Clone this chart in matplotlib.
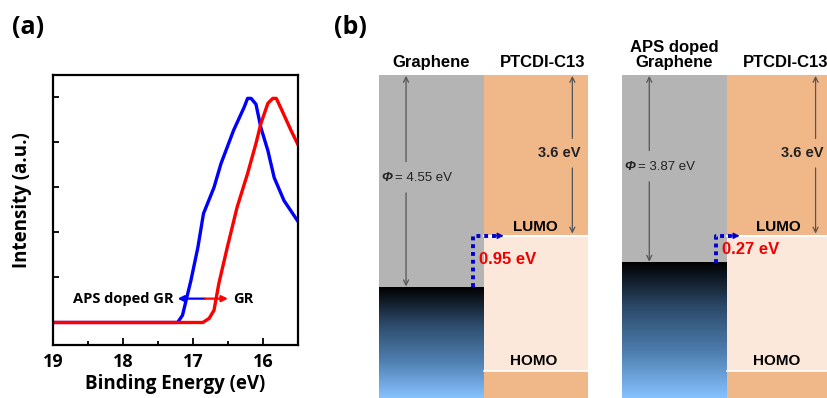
import numpy as np
import matplotlib
matplotlib.use("Agg")
import matplotlib.pyplot as plt
from matplotlib.colors import LinearSegmentedColormap
from matplotlib.patches import Rectangle

# ---- panel (a): UPS secondary cutoff ----
blue_be = [19.0, 17.22, 17.15, 17.03, 16.93, 16.85, 16.70, 16.60, 16.42, 16.27,
           16.22, 16.17, 16.10, 16.03, 15.93, 15.84, 15.70, 15.48]
blue_int = [0, 0, 0.16, 0.93, 1.67, 2.42, 3.0, 3.53, 4.27, 4.78,
            4.98, 4.98, 4.85, 4.33, 3.82, 3.22, 2.71, 2.2]
red_be = [19.0, 16.86, 16.77, 16.70, 16.63, 16.51, 16.37, 16.22, 16.10, 16.03,
          15.93, 15.86, 15.81, 15.74, 15.60, 15.48]
red_int = [0, 0, 0.09, 0.27, 0.87, 1.67, 2.56, 3.31, 3.98, 4.42,
           4.87, 4.98, 4.98, 4.75, 4.27, 3.89]
cutoffs = [17.22, 16.50]      # APS doped GR, GR (arrow ends)
arrow_mid = 16.83
x_ticks = [19, 18, 17, 16]

# ---- panel (b): energy level schematic (depth below vacuum, as drawn) ----
fermi_depth = [4.75, 4.2]          # pristine, APS doped graphene
lumo_depth = 3.6
homo_depth = 6.62
wf_labels = ["4.55", "3.87"]
barrier_labels = ["0.95 eV", "0.27 eV"]
gr_names = ["Graphene", "APS doped\nGraphene"]

FA = "Open Sans"
FB = "Liberation Sans"

fig = plt.figure(figsize=(8.27, 3.98), dpi=100)

# ---------------- (a) ----------------
ax = fig.add_axes([0.0641, 0.1332, 0.2962, 0.6784])
ax.plot(blue_be, blue_int, color="#0000ff", lw=2.4, solid_joinstyle="round")
ax.plot(red_be, red_int, color="#ff0000", lw=2.4, solid_joinstyle="round")
ax.set_xlim(19, 15.5)
ax.set_ylim(-0.5, 5.5)
ax.set_xticks(x_ticks)
ax.set_xticks(np.arange(15.5, 19.01, 0.5), minor=True)
ax.set_yticks([1, 2, 3, 4, 5])
ax.set_yticklabels([])
ax.tick_params(axis="both", which="both", direction="in", top=False, right=False,
               width=1.3)
ax.tick_params(axis="x", which="major", length=5, pad=6)
ax.tick_params(axis="x", which="minor", length=3)
ax.tick_params(axis="y", which="major", length=4)
for lab in ax.get_xticklabels():
    lab.set_fontfamily(FA)
    lab.set_fontweight("bold")
    lab.set_fontsize(13)
for s in ax.spines.values():
    s.set_linewidth(1.6)
ax.set_xlabel("Binding Energy (eV)", fontfamily=FA, fontweight="bold", fontsize=13.5,
              labelpad=2)
ax.set_ylabel("Intensity (a.u.)", fontfamily=FA, fontweight="bold", fontsize=13.5)
ax.yaxis.set_label_coords(-0.086, 0.537)

ya = 0.53
ax.annotate("", xy=(cutoffs[0], ya), xytext=(arrow_mid, ya),
            arrowprops=dict(arrowstyle="-|>", color="#0000ff", lw=1.6,
                            mutation_scale=9, shrinkA=0, shrinkB=0))
ax.annotate("", xy=(cutoffs[1], ya), xytext=(arrow_mid, ya),
            arrowprops=dict(arrowstyle="-|>", color="#ff0000", lw=1.6,
                            mutation_scale=9, shrinkA=0, shrinkB=0))
ax.text(cutoffs[0] + 0.05, ya, "APS doped GR", ha="right", va="center",
        fontfamily=FA, fontweight="bold", fontsize=10.5)
ax.text(cutoffs[1] - 0.07, ya, "GR", ha="left", va="center",
        fontfamily=FA, fontweight="bold", fontsize=10.5)
fig.text(0.014, 0.93, "(a)", fontfamily=FA, fontweight="bold", fontsize=18,
         va="center")

# ---------------- (b) ----------------
bx = fig.add_axes([0.4583, 0.0, 0.5417, 0.8116])
bx.set_xlim(0, 4.31)
bx.set_ylim(7.23, 0)
bx.axis("off")

gray = "#b4b4b4"
peach = "#f0b789"
light = "#fce8da"
cmap = LinearSegmentedColormap.from_list("metal", ["#000000", "#2c4a6a", "#4f7fb0", "#86c2ff"])
bottom = 7.23
starts = [0.0, 2.34]
for i, x0 in enumerate(starts):
    ef = fermi_depth[i]
    xp = x0 + 1.01
    # graphene
    bx.add_patch(Rectangle((x0, 0), 1.01, ef, facecolor=gray, edgecolor="none"))
    grad = np.linspace(0, 1, 256).reshape(-1, 1)
    bx.imshow(grad, cmap=cmap, aspect="auto", extent=(x0, x0 + 1.01, bottom, ef),
              origin="upper", zorder=1)
    # PTCDI-C13
    bx.add_patch(Rectangle((xp, 0), 1.0, lumo_depth, facecolor=peach, edgecolor="none"))
    bx.add_patch(Rectangle((xp, lumo_depth), 1.0, homo_depth - lumo_depth,
                           facecolor=light, edgecolor="none"))
    bx.add_patch(Rectangle((xp, homo_depth), 1.0, bottom - homo_depth,
                           facecolor=peach, edgecolor="none"))
    bx.plot([xp, xp + 1.0], [lumo_depth, lumo_depth], color="white", lw=1.5, zorder=3)
    bx.plot([xp, xp + 1.0], [homo_depth, homo_depth], color="white", lw=1.2, zorder=3)

    # names above blocks
    bx.text(x0 + 0.5, -0.12, gr_names[i], ha="center", va="bottom",
            fontfamily=FB, fontweight="bold", fontsize=12, clip_on=False,
            linespacing=1.0)
    bx.text(xp + 0.56, -0.12, "PTCDI-C13", ha="center", va="bottom",
            fontfamily=FB, fontweight="bold", fontsize=12, clip_on=False)

    # work function arrow
    xa = x0 + 0.26
    ymid = 2.3 if i == 0 else 2.05
    arr = dict(arrowstyle="->", color="#555555", lw=0.9, mutation_scale=9,
               shrinkA=0, shrinkB=0)
    bx.annotate("", xy=(xa, 0.02), xytext=(xa, ymid - 0.36), arrowprops=arr)
    bx.annotate("", xy=(xa, ef - 0.02), xytext=(xa, ymid + 0.34), arrowprops=arr)
    bx.text(x0 + 0.025, ymid, "Φ", ha="left", va="center", fontfamily=FB,
            fontstyle="italic", fontweight="bold", fontsize=9.5, color="#222222")
    bx.text(x0 + 0.155, ymid, "= " + wf_labels[i] + " eV", ha="left", va="center",
            fontfamily=FB, fontsize=9.5, color="#222222")

    # electron affinity arrow
    xe = xp + 0.85
    emid = 1.75
    bx.annotate("", xy=(xe, 0.02), xytext=(xe, emid - 0.33), arrowprops=arr)
    bx.annotate("", xy=(xe, lumo_depth - 0.05), xytext=(xe, emid + 0.33), arrowprops=arr)
    bx.text(xp + 0.52, emid, "3.6 eV", ha="left", va="center",
            fontfamily=FB, fontweight="bold", fontsize=10.5, color="#222222",
            clip_on=False)

    # barrier (dotted blue path)
    xd = xp - 0.11
    tip = xp + (0.19 if i == 0 else 0.12)
    bx.plot([xd, xd, tip - 0.06], [ef, lumo_depth, lumo_depth], color="#0000cc",
            lw=2.8, ls=(0, (1, 1)), zorder=4)
    bx.annotate("", xy=(tip, lumo_depth), xytext=(tip - 0.08, lumo_depth),
                arrowprops=dict(arrowstyle="-|>", color="#0000cc", lw=1,
                                mutation_scale=9, shrinkA=0, shrinkB=0), zorder=4)
    by = 4.14 if i == 0 else 3.91
    bx.text(xp - 0.05, by, barrier_labels[i], ha="left", va="center",
            fontfamily=FB, fontweight="bold", fontsize=12, color="#ee0000", zorder=5)

    # LUMO / HOMO
    bx.text(xp + 0.49, lumo_depth - 0.05, "LUMO", ha="center", va="bottom",
            fontfamily=FB, fontweight="bold", fontsize=11, zorder=5)
    bx.text(xp + 0.48, homo_depth - 0.07, "HOMO", ha="center", va="bottom",
            fontfamily=FB, fontweight="bold", fontsize=11, zorder=5)

fig.text(0.404, 0.93, "(b)", fontfamily=FA, fontweight="bold", fontsize=18,
         va="center")

fig.savefig("out.png", dpi=100)
